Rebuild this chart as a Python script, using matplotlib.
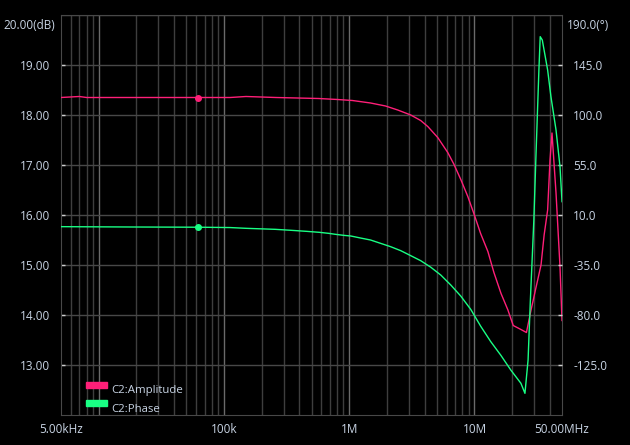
import numpy as np
import matplotlib
matplotlib.use("Agg")
import matplotlib.pyplot as plt
from matplotlib.patches import Rectangle

plt.rcParams['font.family'] = ['Open Sans', 'DejaVu Sans']

# amplitude trace (left axis, dB)
freq_amp = [5e3, 7e3, 8e3, 2e4, 6.26e4, 1.12e5, 1.5e5, 2.6e5, 5.69e5, 8.07e5, 1.06e6,
            1.48e6, 1.95e6, 2.44e6, 3.10e6, 3.72e6, 4.24e6, 5.09e6, 6.12e6, 6.84e6,
            7.78e6, 8.85e6, 9.89e6, 11.2e6, 12.8e6, 14.3e6, 16.3e6, 18.5e6, 20.4e6,
            23.5e6, 26.0e6, 28.3e6, 31e6, 34e6, 36e6, 38.4e6, 40.1e6, 41.6e6, 44.8e6,
            48.2e6, 50e6]
amp_db = [18.35, 18.37, 18.35, 18.35, 18.35, 18.35, 18.37, 18.35, 18.33, 18.31, 18.29,
          18.24, 18.18, 18.10, 18.00, 17.89, 17.77, 17.55, 17.25, 17.02,
          16.71, 16.37, 16.03, 15.63, 15.27, 14.85, 14.43, 14.10, 13.79,
          13.71, 13.65, 14.10, 14.55, 15.00, 15.60, 16.10, 17.10, 17.64, 16.44,
          14.96, 13.89]

# phase trace (right axis, degrees)
freq_phase = [5e3, 1.88e4, 6.26e4, 1.12e5, 1.51e5, 2.57e5, 3.46e5, 4.56e5, 5.79e5,
              6.84e5, 7.78e5, 9.02e5, 1.03e6, 1.23e6, 1.48e6, 1.78e6, 2.14e6, 2.58e6,
              3.10e6, 3.72e6, 4.48e6, 5.38e6, 6.47e6, 7.78e6, 9.35e6, 11.2e6, 13.5e6,
              16.3e6, 19.5e6, 23.5e6, 25.3e6, 26.8e6, 27.9e6, 29.8e6, 30.9e6, 32.7e6,
              33.5e6, 34.8e6, 38.4e6, 40.8e6, 44.8e6, 48.2e6, 50e6]
phase_deg = [-0.5, -0.8, -1.0, -1.3, -2.0, -2.9, -3.8, -4.7, -5.6,
             -6.5, -7.4, -8.3, -8.9, -10.7, -12.5, -15.5, -18.5, -22.1,
             -26.6, -31.1, -37.0, -44.0, -53.0, -63.0, -75.0, -90.0, -104.0,
             -116.5, -129.5, -141.5, -150.5, -120.5, -69.0, 5.5, 59.5, 140.5,
             170.5, 167.5, 140.5, 116.5, 86.5, 53.5, 22.0]

marker_freq = 6.26e4
x_ticks = [5e3, 1e5, 1e6, 1e7, 5e7]
x_labels = ['5.00kHz', '100k', '1M', '10M', '50.00MHz']
db_ticks = [13, 14, 15, 16, 17, 18, 19]
deg_ticks = [-125, -80, -35, 10, 55, 100, 145]

amp_color = '#ff1f78'
phase_color = '#19ff84'
txt_color = '#c8d4e4'

fig = plt.figure(figsize=(6.3, 4.45), dpi=100, facecolor='black')
ax = fig.add_axes([61 / 630, 30 / 445, 501 / 630, 400 / 445])
ax.set_facecolor('black')
ax.set_xscale('log')
ax.set_xlim(5e3, 5e7)
ax.set_ylim(12, 20)

# log grid: decades a bit brighter
for dec in [1e3, 1e4, 1e5, 1e6, 1e7]:
    for m in range(1, 10):
        f = m * dec
        if 5e3 < f < 5e7:
            ax.axvline(f, color='#6a6a6a' if m == 1 else '#3e3e3e', lw=1.0, zorder=1)
for v in db_ticks + [19.999]:
    ax.axhline(v, color='#484848', lw=1.0, zorder=1)

for s in ax.spines.values():
    s.set_color('#484848')

ax.set_xticks(x_ticks)
ax.set_xticklabels(x_labels)
ax.xaxis.set_minor_locator(matplotlib.ticker.NullLocator())
ax.tick_params(axis='x', length=0, pad=6, colors=txt_color, labelsize=8.5)
ax.set_yticks(db_ticks)
ax.set_yticklabels(['%.2f' % v for v in db_ticks])
ax.tick_params(axis='y', direction='in', length=3, width=1, color='#d0d0d0',
               labelcolor=txt_color, labelsize=8.5, pad=8)

ax2 = ax.twinx()
ax2.set_ylim(-170, 190)
ax2.set_yticks(deg_ticks)
ax2.set_yticklabels(['%.1f' % v for v in deg_ticks])
ax2.tick_params(axis='y', direction='in', length=3, width=1, color='#d0d0d0',
                labelcolor=txt_color, labelsize=8.5, pad=8)
for s in ax2.spines.values():
    s.set_visible(False)

ax.plot(freq_amp, amp_db, color=amp_color, lw=1.0, zorder=3)
ax.plot([marker_freq], [np.interp(np.log10(marker_freq), np.log10(freq_amp), amp_db)],
        'o', color=amp_color, ms=4, zorder=4)
ax2.plot(freq_phase, phase_deg, color=phase_color, lw=1.0, zorder=3)
ax2.plot([marker_freq], [np.interp(np.log10(marker_freq), np.log10(freq_phase), phase_deg)],
         'o', color=phase_color, ms=4, zorder=4)

# axis unit labels at the top
ax.text(-0.012, 0.975, '20.00(dB)', transform=ax.transAxes, ha='right', va='center',
        color=txt_color, fontsize=8.5)
ax.text(1.01, 0.975, '190.0(°)', transform=ax.transAxes, ha='left', va='center',
        color=txt_color, fontsize=8.5)

# legend
for yc, col, name, ty in [(0.0758, amp_color, 'C2:Amplitude', 0.06),
                          (0.0308, phase_color, 'C2:Phase', 0.015)]:
    ax.add_patch(Rectangle((0.0499, yc - 0.0075), 0.042, 0.015, transform=ax.transAxes,
                           color=col, zorder=5, clip_on=False))
    ax.text(0.0998, ty, name, transform=ax.transAxes, ha='left', va='center',
            color=txt_color, fontsize=8.2, zorder=5)

fig.savefig('out.png', dpi=100, facecolor='black')
